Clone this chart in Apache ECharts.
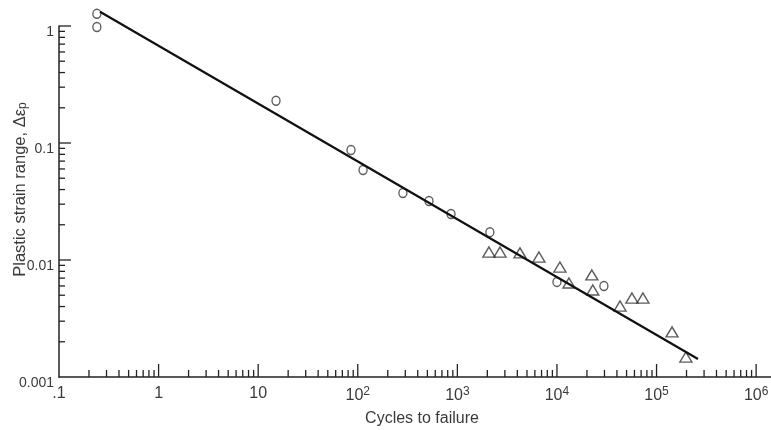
<!DOCTYPE html>
<html>
<head>
<meta charset="utf-8">
<script src="https://cdn.jsdelivr.net/npm/echarts@6/dist/echarts.min.js"></script>
<style>
  html, body { margin: 0; padding: 0; background: #ffffff; }
  #chart { width: 771px; height: 430px; }
</style>
</head>
<body>
<div id="chart"></div>
<script>
// ---- data ----
const circleCycles = [0.24, 0.24, 15.1, 85.5, 113, 284, 519, 863, 2120, 10000, 29600];
const circleStrain = [1.27, 0.98, 0.23, 0.087, 0.0588, 0.0374, 0.0319, 0.0247, 0.0173, 0.0065, 0.0060];

const triangleCycles = [2075, 2680, 4250, 6590, 10700, 13200, 22400, 22900, 43000, 56600, 73000, 143000, 197000];
const triangleStrain = [0.0117, 0.0117, 0.0115, 0.0106, 0.0087, 0.00636, 0.00745, 0.00554, 0.00404, 0.00473, 0.00473, 0.00243, 0.00148];

const fitCycles = [0.258, 260600];
const fitStrain = [1.325, 0.001426];

// tick labels
const xTickLabels = ['.1', '1', '10', '10^2', '10^3', '10^4', '10^5', '10^6'];
const yTickLabels = ['0.001', '0.01', '0.1', '1'];

const xMin = 0.1, xMax = 1.41e6;
const yMin = 0.001, yMax = 1;

// ---- tick positions (major decades + minor 2..9) ----
const xDecades = [0.1, 1, 10, 100, 1000, 10000, 100000];
const yDecades = [0.001, 0.01, 0.1];
const tickData = [];
xDecades.forEach(function (d) {
  for (let k = 2; k <= 9; k++) tickData.push([d * k, yMin, 0]);
  tickData.push([d * 10, yMin, 1]);
});
yDecades.forEach(function (d) {
  for (let k = 2; k <= 9; k++) tickData.push([xMin, d * k, 2]);
  tickData.push([xMin, d * 10, 3]);
});

function zip(a, b) { return a.map(function (v, i) { return [v, b[i]]; }); }

function fmtX(v) {
  const l = Math.log10(v);
  const e = Math.round(l);
  if (Math.abs(l - e) > 1e-6) return '';
  const idx = e + 1;
  if (idx < 0 || idx >= xTickLabels.length) return '';
  const s = xTickLabels[idx];
  const parts = s.split('^');
  if (parts.length === 2) return parts[0] + '{sup|' + parts[1] + '}';
  return s;
}
function fmtY(v) {
  const l = Math.log10(v);
  const e = Math.round(l);
  if (Math.abs(l - e) > 1e-6) return '';
  const idx = e + 3;
  if (idx < 0 || idx >= yTickLabels.length) return '';
  return yTickLabels[idx];
}

const FONT = '"Liberation Sans", Arial, sans-serif';
const TXT = '#3a3a3a';
const INK = '#222222';

const chart = echarts.init(document.getElementById('chart'), null, { renderer: 'canvas' });
chart.setOption({
  backgroundColor: '#ffffff',
  animation: false,
  grid: { left: 59, right: 0, top: 26, bottom: 53, containLabel: false, outerBoundsMode: 'none' },
  xAxis: {
    type: 'log',
    logBase: 10,
    min: xMin,
    max: xMax,
    name: 'Cycles to failure',
    nameLocation: 'middle',
    nameGap: 34,
    nameMoveOverlap: false,
    nameTextStyle: { fontFamily: FONT, fontSize: 16, color: TXT, padding: [0, 0, 0, 14] },
    axisLine: { show: true, onZero: false, lineStyle: { color: INK, width: 1.5 } },
    axisTick: { show: false },
    minorTick: { show: false },
    splitLine: { show: false },
    axisLabel: {
      show: true,
      margin: 9,
      fontFamily: FONT,
      fontSize: 16,
      color: TXT,
      formatter: fmtX,
      rich: {
        sup: { fontFamily: FONT, fontSize: 12, color: TXT, verticalAlign: 'top', padding: [0, 0, 8, 0] }
      }
    }
  },
  yAxis: {
    type: 'log',
    logBase: 10,
    min: yMin,
    max: yMax,
    name: 'Plastic strain range, Δε{sub|p}',
    nameLocation: 'middle',
    nameGap: 30,
    nameMoveOverlap: false,
    nameTextStyle: {
      fontFamily: FONT, fontSize: 16.5, color: TXT, padding: [0, 0, 0, 24],
      rich: { sub: { fontFamily: FONT, fontSize: 12, color: TXT, padding: [6, 0, 0, 0] } }
    },
    axisLine: { show: true, onZero: false, lineStyle: { color: INK, width: 1.5 } },
    axisTick: { show: false },
    minorTick: { show: false },
    splitLine: { show: false },
    axisLabel: {
      show: true,
      margin: 5,
      verticalAlign: 'top',
      lineHeight: 12,
      fontFamily: FONT,
      fontSize: 14,
      color: TXT,
      formatter: fmtY
    }
  },
  series: [
    {
      type: 'custom',
      name: 'ticks',
      clip: false,
      silent: true,
      data: tickData,
      encode: { x: 0, y: 1 },
      renderItem: function (params, api) {
        const p = api.coord([api.value(0), api.value(1)]);
        const kind = api.value(2);
        let shape;
        if (kind === 0 || kind === 1) {
          const len = kind === 1 ? 13 : 7;
          shape = { x1: p[0], y1: p[1], x2: p[0], y2: p[1] - len };
        } else {
          const len = kind === 3 ? 12 : 6;
          shape = { x1: p[0], y1: p[1], x2: p[0] + len, y2: p[1] };
        }
        return { type: 'line', shape: shape, style: { stroke: INK, lineWidth: 1.3 } };
      }
    },
    {
      type: 'line',
      name: 'fit',
      data: zip(fitCycles, fitStrain),
      clip: false,
      showSymbol: false,
      symbol: 'none',
      lineStyle: { color: '#111111', width: 2.2 },
      silent: true
    },
    {
      type: 'scatter',
      name: 'circles',
      data: zip(circleCycles, circleStrain),
      clip: false,
      symbol: 'circle',
      symbolSize: [8, 9],
      itemStyle: { color: 'rgba(255,255,255,0)', borderColor: '#333333', borderWidth: 1.4 }
    },
    {
      type: 'scatter',
      name: 'triangles',
      data: zip(triangleCycles, triangleStrain),
      clip: false,
      symbol: 'triangle',
      symbolSize: [12, 10],
      itemStyle: { color: 'rgba(255,255,255,0)', borderColor: '#333333', borderWidth: 1.4 }
    }
  ]
});
</script>
</body>
</html>
